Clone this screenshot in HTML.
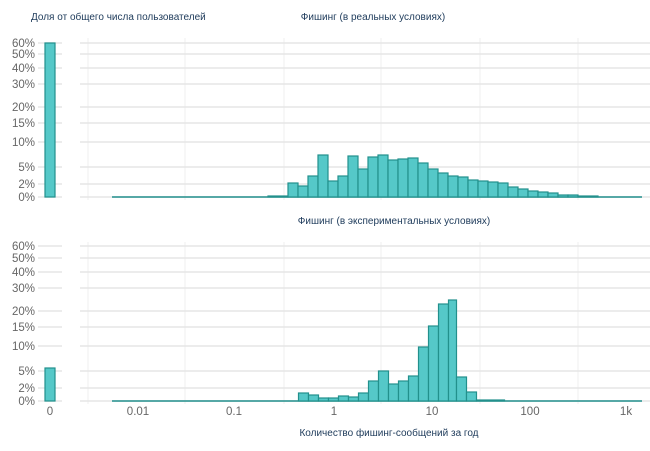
<!DOCTYPE html>
<html><head><meta charset="utf-8"><style>
body{margin:0;background:#fff}
svg{display:block;font-family:"Liberation Sans",sans-serif}
.t{fill:#666;font-size:11.5px}
.h{fill:#1d3a5a;font-size:10px}
.g{stroke:#e6e6e6;stroke-width:1.6}
.v{stroke:#efefef;stroke-width:1}
rect{fill:#55c8c8;stroke:#22908c;stroke-width:1.2}
</style></head><body>
<svg width="650" height="451" viewBox="0 0 650 451">
<text class="h" x="31" y="20">Доля от общего числа пользователей</text>
<text class="h" x="373" y="20" text-anchor="middle">Фишинг (в реальных условиях)</text>
<text class="h" x="394" y="224" text-anchor="middle">Фишинг (в экспериментальных условиях)</text>
<text class="h" x="389" y="436" text-anchor="middle">Количество фишинг-сообщений за год</text>

<g class="v">
<line x1="88" y1="38" x2="88" y2="200"/><line x1="185" y1="38" x2="185" y2="200"/><line x1="284" y1="38" x2="284" y2="200"/><line x1="381" y1="38" x2="381" y2="200"/><line x1="480" y1="38" x2="480" y2="200"/><line x1="578" y1="38" x2="578" y2="200"/>
<line x1="88" y1="242" x2="88" y2="404"/><line x1="185" y1="242" x2="185" y2="404"/><line x1="284" y1="242" x2="284" y2="404"/><line x1="381" y1="242" x2="381" y2="404"/><line x1="480" y1="242" x2="480" y2="404"/><line x1="578" y1="242" x2="578" y2="404"/>
</g>
<g class="g">
<!-- top -->
<path d="M38 43H62M80 43H650M38 54H62M80 54H650M38 68H62M80 68H650M38 84H62M80 84H650M38 107H62M80 107H650M38 123H62M80 123H650M38 142H62M80 142H650M38 167H62M80 167H650M38 184H62M80 184H650M38 197H62M80 197H650"/>
<!-- bottom -->
<path d="M38 246H62M80 246H650M38 258H62M80 258H650M38 272H62M80 272H650M38 288H62M80 288H650M38 311H62M80 311H650M38 327H62M80 327H650M38 346H62M80 346H650M38 371H62M80 371H650M38 388H62M80 388H650M38 401H62M80 401H650"/>
</g>
<g class="t" text-anchor="end">
<text x="35" y="47">60%</text><text x="35" y="58">50%</text><text x="35" y="72">40%</text><text x="35" y="88">30%</text><text x="35" y="111">20%</text><text x="35" y="127">15%</text><text x="35" y="146">10%</text><text x="35" y="171">5%</text><text x="35" y="188">2%</text><text x="35" y="201">0%</text>
<text x="35" y="250">60%</text><text x="35" y="262">50%</text><text x="35" y="276">40%</text><text x="35" y="292">30%</text><text x="35" y="315">20%</text><text x="35" y="331">15%</text><text x="35" y="350">10%</text><text x="35" y="375">5%</text><text x="35" y="392">2%</text><text x="35" y="405">0%</text>
</g>
<g class="t" text-anchor="middle">
<text x="50" y="415">0</text><text x="138" y="415">0.01</text><text x="234" y="415">0.1</text><text x="334" y="415">1</text><text x="432" y="415">10</text><text x="530" y="415">100</text><text x="626" y="415">1k</text>
</g>

<!-- top zero bar -->
<rect x="45" y="43" width="10" height="154"/>
<line x1="112" y1="197" x2="642" y2="197" stroke="#22908c" stroke-width="1.5"/>
<rect x="268" y="196" width="20" height="1"/>
<rect x="288" y="183" width="10" height="14"/>
<rect x="298" y="186" width="10" height="11"/>
<rect x="308" y="176" width="10" height="21"/>
<rect x="318" y="155" width="10" height="42"/>
<rect x="328" y="181" width="10" height="16"/>
<rect x="338" y="176" width="10" height="21"/>
<rect x="348" y="156" width="10" height="41"/>
<rect x="358" y="169" width="10" height="28"/>
<rect x="368" y="157" width="10" height="40"/>
<rect x="378" y="155" width="10" height="42"/>
<rect x="388" y="160" width="10" height="37"/>
<rect x="398" y="159" width="10" height="38"/>
<rect x="408" y="158" width="10" height="39"/>
<rect x="418" y="163" width="10" height="34"/>
<rect x="428" y="169" width="10" height="28"/>
<rect x="438" y="173" width="10" height="24"/>
<rect x="448" y="176" width="10" height="21"/>
<rect x="458" y="177" width="10" height="20"/>
<rect x="468" y="180" width="10" height="17"/>
<rect x="478" y="181" width="10" height="16"/>
<rect x="488" y="182" width="10" height="15"/>
<rect x="498" y="183" width="10" height="14"/>
<rect x="508" y="187" width="10" height="10"/>
<rect x="518" y="189" width="10" height="8"/>
<rect x="528" y="191" width="10" height="6"/>
<rect x="538" y="192" width="10" height="5"/>
<rect x="548" y="193" width="10" height="4"/>
<rect x="558" y="195" width="10" height="2"/>
<rect x="568" y="195" width="10" height="2"/>
<rect x="578" y="196" width="20" height="1"/>

<!-- bottom -->
<rect x="45" y="368" width="10" height="33"/>
<line x1="112" y1="401" x2="642" y2="401" stroke="#22908c" stroke-width="1.5"/>
<rect x="298.5" y="393" width="10" height="8"/>
<rect x="308.5" y="395" width="10" height="6"/>
<rect x="318.5" y="398" width="10" height="3"/>
<rect x="328.5" y="398" width="10" height="3"/>
<rect x="338.5" y="396" width="10" height="5"/>
<rect x="348.5" y="397" width="10" height="4"/>
<rect x="358.5" y="393" width="10" height="8"/>
<rect x="368.5" y="381" width="10" height="20"/>
<rect x="378.5" y="371" width="10" height="30"/>
<rect x="388.5" y="384" width="10" height="17"/>
<rect x="398.5" y="381" width="10" height="20"/>
<rect x="408.5" y="376" width="10" height="25"/>
<rect x="418.5" y="347" width="10" height="54"/>
<rect x="428.5" y="326" width="10" height="75"/>
<rect x="438.5" y="304" width="10" height="97"/>
<rect x="448.5" y="300" width="8" height="101"/>
<rect x="456.5" y="377" width="10" height="24"/>
<rect x="466.5" y="392" width="10" height="9"/>
<rect x="476.5" y="400" width="28" height="1"/>
</svg>
</body></html>
